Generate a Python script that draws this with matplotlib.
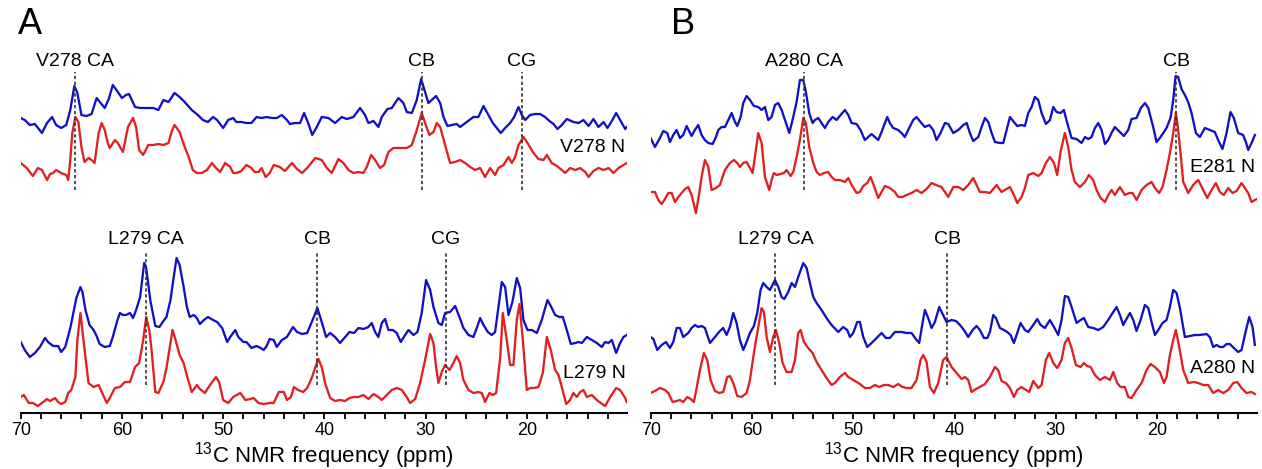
import numpy as np
import matplotlib
matplotlib.use("Agg")
import matplotlib.pyplot as plt
from matplotlib import rc
from matplotlib.ticker import MultipleLocator

rc('font', family='Liberation Sans')
rc('mathtext', fontset='custom', rm='Liberation Sans', default='regular')

# ---------------- panel A, top pair (V278 N) ----------------
a1_blue_ppm = [70.0, 69.6, 69.1, 68.6, 67.9, 67.4, 66.9, 66.5, 66.0, 65.5, 65.1, 64.7, 64.4, 64.0, 63.5, 63.0,
               62.5, 62.1, 61.7, 61.3, 60.9, 60.4, 60.0, 59.6, 59.3, 58.7, 58.2, 57.6, 56.9, 56.4, 55.9, 55.4,
               54.8, 54.3, 53.8, 53.1, 52.5, 52.0, 51.5, 51.0, 50.6, 50.0, 49.5, 49.0, 48.7, 48.2, 47.7, 47.2,
               46.7, 46.2, 45.7, 45.2, 44.7, 44.2, 43.7, 43.4, 42.9, 42.4, 42.0, 41.6, 41.2, 40.75, 40.26, 39.6,
               38.94, 38.28, 37.79, 37.13, 36.47, 35.98, 35.65, 35.15, 34.66, 34.33, 33.77, 33.34, 32.68, 32.19,
               31.86, 31.36, 30.87, 30.44, 30.05, 29.72, 29.39, 28.96, 28.56, 28.23, 27.84, 27.41, 26.92, 26.59,
               25.93, 25.27, 24.78, 24.28, 23.79, 23.36, 22.96, 22.57, 22.14, 21.65, 21.25, 20.82, 20.49, 20.16,
               19.67, 19.18, 18.68, 18.19, 17.76, 17.36, 16.97, 16.54, 16.05, 15.39, 14.89, 14.4, 13.9, 13.41,
               12.92, 12.42, 12.03, 11.6, 11.17, 10.78, 10.28, 10.12]
a1_blue = [17, 15, 10, 11, 2, 12, 18, 10, 7, 10, 25, 49, 42, 20, 19, 21,
           37, 32, 27, 36, 50, 43, 37, 40, 41, 28, 27, 27, 27, 25, 35, 33,
           42, 38, 33, 25, 20, 15, 13, 18, 15, 7, 15, 17, 13, 13, 12, 12,
           18, 17, 18, 17, 17, 20, 15, 11, 12, 12, 22, 12, 0, 8, 18, 17,
           12, 18, 16, 18, 27, 20, 12, 14, 8, 18, 26, 27, 37, 32,
           23, 22, 35, 56, 43, 32, 35, 39, 32, 18, 9, 10, 11, 8,
           13, 18, 18, 29, 20, 12, 7, 2, 7, 12, 18, 28, 20, 15,
           20, 21, 21, 18, 14, 11, 6, 10, 16, 13, 12, 15, 9, 16,
           8, 13, 7, 14, 22, 15, 6, 8]

a1_red_ppm = [70.0, 69.4, 68.8, 68.3, 67.9, 67.4, 67.1, 66.8, 66.5, 66.0, 65.5, 65.3, 65.1, 64.9, 64.6, 64.3,
              64.0, 63.7, 63.3, 63.0, 62.7, 62.3, 62.0, 61.7, 61.4, 61.2, 60.7, 60.4, 59.9, 59.4, 58.9, 58.6,
              58.3, 57.9, 57.4, 56.9, 56.4, 55.9, 55.4, 55.1, 54.8, 54.3, 53.8, 53.4, 53.0, 52.6, 52.1, 51.6,
              51.1, 50.7, 50.3, 49.8, 49.3, 49.0, 48.7, 48.2, 47.7, 47.2, 46.9, 46.5, 46.2, 45.8, 45.4, 45.0,
              44.4, 43.9, 43.2, 42.7, 42.2, 41.7, 40.9, 40.26, 39.76, 39.27, 38.61, 38.12, 37.62, 37.13, 36.63,
              36.14, 35.81, 35.38, 34.99, 34.49, 34.1, 33.67, 33.18, 32.52, 31.86, 31.36, 30.93, 30.38, 30.05,
              29.62, 29.22, 28.89, 28.56, 28.07, 27.58, 27.08, 26.59, 26.09, 25.6, 25.11, 24.61, 24.12, 23.62,
              23.13, 22.8, 22.3, 21.81, 21.48, 21.15, 20.82, 20.33, 19.93, 19.41, 18.85, 18.35, 18.02, 17.53,
              17.03, 16.54, 16.21, 15.72, 15.22, 14.73, 14.23, 13.9, 13.41, 12.92, 12.42, 11.93, 11.43, 10.94,
              10.45, 10.12]
a1_red = [17, 12, 4, 12, 10, 0, 6, 7, 10, 7, 5, 0, 20, 47, 63, 58,
          33, 18, 22, 20, 17, 47, 57, 50, 37, 32, 40, 37, 28, 53, 62, 53,
          30, 25, 35, 35, 36, 35, 37, 48, 55, 48, 33, 23, 10, 7, 7, 10,
          17, 12, 8, 17, 13, 7, 7, 9, 15, 12, 8, 8, 12, 3, 7, 15,
          13, 9, 17, 11, 7, 12, 22, 20, 12, 7, 21, 17, 10, 7, 8,
          7, 13, 25, 20, 12, 15, 28, 32, 32, 32, 35, 48, 67, 57,
          45, 48, 57, 53, 35, 17, 18, 20, 17, 13, 10, 12, 3, 12,
          5, 12, 15, 23, 17, 23, 35, 43, 37, 28, 21, 20, 25, 17,
          14, 10, 7, 12, 10, 12, 8, 3, 9, 12, 10, 12, 7, 12,
          15, 17]

# ---------------- panel A, bottom pair (L279 N) ----------------
a2_blue_ppm = [70.0, 69.6, 69.1, 68.6, 68.1, 67.6, 67.3, 66.8, 66.3, 66.0, 65.6, 65.1, 64.8, 64.5, 64.1, 63.9,
               63.6, 63.2, 62.8, 62.5, 62.2, 61.7, 61.2, 60.9, 60.5, 60.2, 59.9, 59.6, 59.2, 58.9, 58.6, 58.2,
               57.8, 57.6, 57.2, 56.7, 56.3, 55.9, 55.6, 55.2, 54.9, 54.6, 54.3, 53.9, 53.6, 53.3, 52.9, 52.6,
               52.3, 51.9, 51.5, 51.0, 50.6, 50.1, 49.6, 49.3, 48.8, 48.5, 48.0, 47.7, 47.2, 46.7, 46.3, 46.0,
               45.7, 45.4, 45.0, 44.7, 44.2, 43.7, 43.1, 42.7, 42.2, 41.7, 41.08, 40.69, 40.26, 39.83, 39.43,
               38.94, 38.45, 37.95, 37.52, 37.06, 36.63, 36.14, 35.65, 35.32, 34.99, 34.66, 34.33, 34.0, 33.67,
               33.24, 32.85, 32.45, 32.02, 31.69, 31.2, 30.8, 30.38, 29.95, 29.55, 29.22, 28.73, 28.4, 28.07,
               27.58, 27.08, 26.65, 26.26, 25.76, 25.27, 24.94, 24.61, 24.28, 23.85, 23.46, 23.13, 22.8, 22.47,
               22.14, 21.81, 21.42, 20.99, 20.66, 20.33, 19.93, 19.5, 19.01, 18.52, 17.96, 17.63, 17.2, 16.77,
               16.44, 16.05, 15.65, 15.22, 14.89, 14.56, 14.07, 13.58, 13.08, 12.59, 12.26, 11.93, 11.6, 11.17,
               10.78, 10.45, 10.12]
a2_blue = [15, 7, 0, 4, 10, 19, 15, 11, 11, 5, 10, 29, 44, 59, 70, 65,
           47, 32, 27, 21, 13, 10, 11, 20, 35, 44, 42, 42, 44, 39, 47, 60,
           94, 89, 57, 31, 30, 36, 40, 57, 79, 99, 92, 70, 51, 40, 42, 39,
           33, 37, 40, 37, 35, 29, 15, 20, 27, 20, 15, 15, 9, 11, 9, 7,
           11, 18, 17, 10, 17, 20, 30, 25, 23, 24, 39, 49, 35, 20, 24,
           20, 14, 20, 25, 24, 29, 28, 30, 34, 25, 20, 34, 38, 27,
           27, 24, 15, 22, 27, 22, 25, 44, 77, 67, 50, 34, 32, 44,
           45, 51, 40, 29, 22, 20, 29, 39, 32, 25, 22, 25, 50, 75,
           70, 42, 55, 79, 69, 37, 27, 27, 24, 37, 57, 51, 42, 40,
           40, 27, 13, 14, 15, 14, 20, 17, 14, 10, 15, 14, 17, 4,
           14, 20, 22]

a2_red_ppm = [70.0, 69.7, 69.2, 68.8, 68.3, 67.9, 67.4, 67.1, 66.6, 66.3, 66.0, 65.6, 65.3, 65.0, 64.6, 64.4,
              64.1, 63.8, 63.3, 62.8, 62.3, 61.9, 61.5, 61.2, 60.7, 60.2, 59.7, 59.2, 58.7, 58.3, 57.9, 57.6,
              57.3, 57.1, 56.7, 56.4, 55.9, 55.6, 55.2, 55.0, 54.7, 54.3, 53.9, 53.6, 53.1, 52.6, 52.3, 51.8,
              51.3, 50.7, 50.4, 50.0, 49.5, 49.0, 48.3, 47.8, 47.3, 47.0, 46.5, 46.0, 45.4, 45.0, 44.5, 44.0,
              43.7, 43.3, 43.0, 42.6, 42.1, 41.7, 41.25, 40.92, 40.59, 40.26, 39.93, 39.43, 38.94, 38.45, 37.95,
              37.52, 37.06, 36.63, 36.14, 35.65, 35.15, 34.66, 34.33, 33.83, 33.34, 32.85, 32.35, 31.86, 31.53,
              31.03, 30.54, 30.05, 29.55, 29.22, 28.96, 28.73, 28.4, 28.07, 27.64, 27.25, 26.92, 26.59, 26.26,
              25.76, 25.27, 24.78, 24.45, 24.12, 23.69, 23.36, 23.03, 22.63, 22.37, 21.98, 21.65, 21.32, 20.99,
              20.72, 20.39, 20.0, 19.67, 19.27, 18.85, 18.42, 18.02, 17.63, 17.2, 16.87, 16.54, 16.11, 15.72,
              15.39, 15.06, 14.73, 14.4, 14.07, 13.58, 13.08, 12.69, 12.26, 11.76, 11.17, 10.78, 10.28, 10.12]
a2_red = [9, 11, 3, 3, 0, 3, 7, 5, 8, 4, 2, 4, 13, 16, 29, 66,
          93, 66, 23, 19, 21, 12, 3, 8, 18, 19, 24, 24, 39, 43, 66, 89,
          76, 59, 14, 13, 24, 38, 63, 76, 66, 51, 43, 31, 14, 21, 17, 13,
          21, 29, 24, 6, 3, 9, 13, 6, 7, 8, 3, 2, 3, 3, 14, 14,
          6, 9, 19, 16, 14, 18, 28, 38, 47, 39, 23, 8, 5, 6, 5,
          8, 9, 9, 11, 7, 12, 9, 6, 11, 16, 18, 16, 9, 3,
          7, 23, 46, 72, 63, 39, 23, 34, 41, 36, 43, 50, 43, 26,
          16, 13, 14, 13, 4, 13, 11, 13, 48, 93, 66, 41, 41, 86,
          102, 66, 16, 18, 18, 19, 33, 69, 56, 36, 31, 19, 2, 6,
          13, 9, 14, 16, 9, 11, 6, 3, 0, 9, 18, 16, 8, 4]

# ---------------- panel B, top pair (E281 N) ----------------
b1_blue_ppm = [70.04, 69.61, 69.12, 68.79, 68.39, 68.13, 67.8, 67.47, 67.14, 66.81, 66.48, 65.99, 65.66, 65.33,
               65.0, 64.67, 64.34, 63.91, 63.58, 63.35, 63.02, 62.69, 62.36, 62.03, 61.7, 61.47, 61.14, 60.88,
               60.55, 60.22, 59.83, 59.4, 59.07, 58.74, 58.41, 58.08, 57.75, 57.42, 57.09, 56.76, 56.33, 55.94,
               55.61, 55.28, 54.95, 54.69, 54.36, 54.03, 53.8, 53.47, 53.14, 52.81, 52.48, 52.05, 51.66, 51.26,
               50.83, 50.5, 50.17, 49.68, 49.29, 48.86, 48.53, 48.2, 47.87, 47.54, 47.21, 46.88, 46.65, 46.39,
               46.06, 45.56, 45.24, 44.91, 44.48, 44.08, 43.75, 43.36, 42.93, 42.5, 42.1, 41.78, 41.38, 40.95,
               40.62, 40.12, 39.63, 39.13, 38.8, 38.48, 38.15, 37.65, 37.32, 36.99, 36.66, 36.33, 36.0, 35.51,
               35.18, 34.85, 34.52, 34.13, 33.8, 33.37, 33.04, 32.71, 32.38, 32.05, 31.72, 31.39, 30.97, 30.57,
               30.24, 29.91, 29.52, 29.19, 28.86, 28.43, 27.93, 27.44, 27.11, 26.78, 26.45, 26.12, 25.79, 25.46,
               25.13, 24.8, 24.48, 24.15, 23.65, 23.26, 22.83, 22.5, 22.01, 21.58, 21.18, 20.85, 20.36, 20.03,
               19.7, 19.3, 19.04, 18.65, 18.38, 18.15, 17.89, 17.56, 17.23, 16.9, 16.57, 16.14, 15.75, 15.25,
               14.76, 14.27, 13.94, 13.51, 13.11, 12.72, 12.39, 11.96, 11.47, 11.2, 10.97, 10.64, 10.31]
b1_blue = [12, 3, 12, 19, 17, 8, 15, 20, 12, 15, 24, 14, 20, 25,
           15, 10, 7, 6, 13, 20, 23, 23, 30, 37, 28, 24, 33, 47,
           54, 50, 44, 43, 40, 43, 30, 33, 45, 47, 40, 30, 17, 33,
           48, 70, 70, 58, 37, 27, 30, 32, 27, 22, 28, 33, 30, 35,
           40, 35, 27, 26, 20, 10, 13, 16, 13, 10, 18, 27, 33, 27,
           22, 20, 17, 13, 22, 30, 33, 28, 23, 25, 20, 10, 17, 27,
           26, 17, 20, 25, 27, 17, 9, 13, 23, 32, 28, 17, 8, 7,
           7, 20, 33, 28, 24, 25, 24, 37, 43, 53, 50, 37, 26, 30,
           43, 38, 37, 40, 27, 12, 11, 7, 13, 11, 13, 22, 27, 20,
           6, 10, 17, 23, 18, 14, 20, 31, 32, 42, 47, 42, 23, 8,
           12, 18, 22, 32, 50, 74, 73, 61, 55, 48, 37, 17, 13, 22,
           20, 18, 10, 1, 17, 38, 32, 17, 15, 8, 0, 7, 15]

b1_red_ppm = [70.04, 69.61, 69.28, 68.95, 68.62, 68.29, 67.96, 67.63, 67.3, 66.97, 66.64, 66.32, 65.99, 65.56,
              65.23, 65.0, 64.67, 64.34, 64.01, 63.58, 63.19, 62.69, 62.2, 61.8, 61.47, 61.21, 60.88, 60.55,
              60.22, 59.96, 59.73, 59.4, 59.07, 58.74, 58.31, 58.08, 57.85, 57.59, 57.19, 56.86, 56.6, 56.2,
              55.94, 55.61, 55.28, 54.95, 54.69, 54.36, 53.96, 53.63, 53.3, 52.91, 52.48, 52.15, 51.82, 51.33,
              50.83, 50.5, 50.17, 49.68, 49.35, 49.02, 48.63, 48.3, 48.03, 47.54, 47.21, 46.88, 46.39, 45.89,
              45.56, 45.14, 44.74, 44.25, 43.75, 43.26, 42.76, 42.27, 41.84, 41.28, 40.62, 40.12, 39.63, 39.13,
              38.64, 38.15, 37.82, 37.49, 36.99, 36.5, 36.17, 35.84, 35.35, 34.85, 34.52, 34.13, 33.8, 33.37,
              33.04, 32.71, 32.22, 31.72, 31.39, 30.97, 30.57, 30.17, 29.85, 29.52, 29.09, 28.76, 28.43, 28.1,
              27.61, 27.11, 26.72, 26.29, 25.96, 25.56, 25.13, 24.8, 24.48, 24.15, 23.65, 23.16, 22.73, 22.4,
              22.01, 21.51, 21.02, 20.52, 20.19, 19.77, 19.44, 19.04, 18.71, 18.38, 18.12, 17.89, 17.66, 17.39,
              16.9, 16.41, 15.91, 15.42, 15.02, 14.59, 14.17, 13.77, 13.38, 12.95, 12.52, 12.12, 11.63, 11.3,
              10.97, 10.64, 10.31, 10.1]
b1_red = [21, 21, 13, 9, 14, 20, 20, 11, 16, 20, 24, 26, 18, 0,
          20, 36, 53, 46, 23, 25, 28, 43, 50, 53, 50, 46, 50, 51,
          45, 40, 56, 80, 70, 36, 23, 33, 40, 38, 39, 40, 43, 37,
          41, 56, 73, 95, 90, 66, 50, 41, 38, 40, 41, 36, 33, 33,
          31, 35, 28, 20, 21, 27, 30, 36, 29, 15, 21, 27, 25, 21,
          16, 16, 18, 20, 23, 20, 24, 30, 28, 26, 16, 26, 26, 23,
          28, 35, 28, 21, 21, 20, 24, 28, 21, 24, 26, 18, 10, 16,
          25, 38, 40, 37, 40, 50, 56, 50, 38, 61, 80, 66, 43, 31,
          26, 31, 38, 33, 23, 15, 11, 18, 23, 18, 26, 18, 20, 20,
          13, 23, 28, 31, 25, 20, 26, 43, 60, 80, 100, 83, 60, 31,
          20, 28, 33, 23, 15, 23, 30, 21, 18, 25, 20, 22, 30, 25,
          20, 11, 13, 14]

# ---------------- panel B, bottom pair (A280 N) ----------------
b2_blue_ppm = [70.04, 69.77, 69.38, 68.95, 68.52, 68.13, 67.8, 67.47, 67.14, 66.81, 66.32, 65.99, 65.66, 65.33,
               65.0, 64.67, 64.17, 63.68, 63.19, 62.86, 62.53, 62.2, 61.87, 61.54, 61.21, 60.88, 60.55, 60.22,
               59.83, 59.5, 59.17, 58.9, 58.57, 58.24, 57.75, 57.42, 57.09, 56.83, 56.43, 56.1, 55.77, 55.45,
               54.95, 54.62, 54.29, 53.96, 53.63, 53.14, 52.65, 52.15, 51.49, 51.0, 50.6, 50.34, 50.01, 49.62,
               49.35, 49.02, 48.63, 48.2, 47.71, 47.21, 46.78, 46.39, 45.89, 45.23, 44.74, 44.25, 43.75, 43.49,
               43.16, 42.93, 42.6, 42.27, 41.94, 41.51, 41.12, 40.79, 40.29, 39.86, 39.46, 39.07, 38.64, 38.21,
               37.82, 37.49, 37.09, 36.76, 36.5, 36.17, 35.91, 35.51, 35.12, 34.79, 34.46, 34.13, 33.8, 33.47,
               33.04, 32.71, 32.22, 31.82, 31.49, 31.06, 30.57, 30.17, 29.75, 29.42, 29.09, 28.76, 28.43, 27.93,
               27.54, 27.21, 26.78, 26.29, 25.79, 25.3, 24.81, 24.31, 23.98, 23.65, 23.32, 23.06, 22.66, 22.33,
               22.01, 21.61, 21.18, 20.85, 20.52, 20.19, 19.86, 19.44, 19.04, 18.71, 18.38, 18.05, 17.72, 17.23,
               16.73, 16.24, 15.75, 15.09, 14.76, 14.43, 14.1, 13.77, 13.44, 13.11, 12.78, 12.39, 11.96, 11.63,
               11.3, 10.87, 10.54, 10.31]
b2_blue = [15, 13, 2, 7, 10, 4, 10, 24, 24, 15, 19, 24, 27, 25,
           26, 24, 9, 15, 21, 24, 17, 25, 39, 29, 12, 2, 10, 19,
           26, 39, 62, 69, 65, 62, 72, 65, 55, 53, 60, 69, 65, 75,
           89, 84, 69, 55, 49, 42, 34, 27, 20, 25, 22, 15, 19, 30,
           30, 15, 5, 9, 14, 19, 14, 14, 20, 20, 19, 19, 12, 9,
           29, 42, 34, 24, 30, 45, 37, 30, 32, 31, 27, 22, 15, 22,
           26, 22, 14, 14, 20, 37, 34, 24, 22, 20, 17, 9, 19, 29,
           22, 20, 27, 33, 27, 24, 32, 25, 17, 32, 56, 55, 45, 29,
           32, 34, 25, 24, 22, 25, 32, 40, 45, 37, 27, 32, 39, 32,
           21, 32, 47, 44, 30, 17, 22, 29, 32, 45, 62, 59, 44, 15,
           16, 17, 17, 18, 15, 5, 7, 5, 5, 8, 8, 4, 0, 2,
           17, 35, 25, 7]

b2_red_ppm = [70.04, 69.61, 69.12, 68.62, 68.29, 67.86, 67.47, 67.14, 66.81, 66.41, 66.08, 65.76, 65.49, 65.16,
              64.77, 64.44, 64.11, 63.68, 63.25, 62.86, 62.46, 62.2, 61.87, 61.47, 61.05, 60.55, 60.22, 59.83,
              59.4, 59.07, 58.84, 58.57, 58.24, 57.92, 57.65, 57.32, 56.99, 56.6, 56.1, 55.77, 55.45, 55.21,
              54.89, 54.46, 54.03, 53.63, 53.14, 52.65, 52.15, 51.82, 51.33, 50.83, 50.5, 50.01, 49.35, 48.86,
              48.36, 47.87, 47.44, 46.98, 46.55, 46.06, 45.56, 45.14, 44.74, 44.25, 43.75, 43.36, 43.09, 42.76,
              42.43, 42.04, 41.61, 41.12, 40.79, 40.29, 39.79, 39.3, 38.97, 38.64, 38.31, 37.88, 37.49, 36.99,
              36.5, 36.0, 35.68, 35.35, 34.92, 34.52, 34.13, 33.8, 33.37, 32.94, 32.61, 32.22, 31.72, 31.39,
              30.97, 30.64, 30.24, 29.85, 29.42, 29.09, 28.76, 28.43, 28.0, 27.54, 27.21, 26.88, 26.55, 26.12,
              25.63, 25.13, 24.64, 24.31, 23.92, 23.59, 23.16, 22.83, 22.5, 22.01, 21.51, 21.02, 20.62, 20.19,
              19.7, 19.3, 19.04, 18.71, 18.38, 18.12, 17.79, 17.39, 16.9, 16.34, 15.91, 15.42, 14.92, 14.43,
              13.94, 13.44, 12.95, 12.45, 12.06, 11.63, 11.14, 10.64, 10.31]
b2_red = [9, 11, 14, 12, 9, 0, 1, 2, 0, 5, 3, 0, 14, 32,
          49, 42, 22, 11, 9, 10, 25, 26, 19, 6, 5, 9, 22, 49,
          75, 94, 90, 65, 50, 65, 72, 59, 39, 30, 30, 42, 69, 72,
          60, 54, 49, 40, 32, 24, 17, 19, 25, 29, 25, 22, 18, 14,
          14, 17, 15, 17, 17, 15, 18, 15, 14, 14, 22, 42, 47, 40,
          15, 9, 19, 42, 45, 35, 29, 23, 25, 22, 10, 13, 15, 18,
          25, 35, 32, 21, 19, 14, 5, 12, 15, 12, 10, 21, 14, 17,
          42, 49, 39, 34, 42, 59, 64, 54, 37, 35, 39, 36, 35, 27,
          22, 25, 22, 30, 19, 15, 15, 5, 4, 12, 19, 32, 38, 35,
          30, 19, 25, 47, 62, 72, 55, 32, 19, 20, 19, 17, 17, 9,
          12, 9, 12, 19, 20, 14, 9, 10, 8]

# assignments: (label, ppm) for top and bottom pair of each panel
a_top_marks = [("V278 CA", 64.6), ("CB", 30.4), ("CG", 20.5)]
a_bot_marks = [("L279 CA", 57.65), ("CB", 40.7), ("CG", 28.0)]
b_top_marks = [("A280 CA", 54.9), ("CB", 18.1)]
b_bot_marks = [("L279 CA", 57.7), ("CB", 40.7)]

BLUE = '#1010c4'
RED = '#e02020'
W, H = 1262, 469


def draw_panel(ax, traces, marks_top, marks_bot, names):
	# traces: list of (ppm, intensity, offset, colour)
	for ppm, y, off, col in traces:
		ax.plot(ppm, np.array(y) + off, color=col, lw=1.65, solid_joinstyle='round')
	for marks, (y0, y1, ty) in zip([marks_top, marks_bot], [(223, 341, 351), (28, 162, 174)]):
		for lab, x in marks:
			ax.plot([x, x], [y0, y1], color='#333333', lw=1.2, ls=(0, (2.0, 1.5)), zorder=5)
			ax.text(x, ty, lab, ha='center', va='center', fontsize=14)
	for lab, ty in names:
		ax.text(10.25, ty, lab, ha='right', va='center', fontsize=14)

	ax.set_xlim(70, 10.1)
	ax.set_ylim(0, 413)
	ax.xaxis.set_major_locator(MultipleLocator(10))
	ax.xaxis.set_minor_locator(MultipleLocator(2))
	ax.tick_params(axis='x', which='both', direction='out', length=4.5, width=1.3, labelsize=13, pad=2)
	ax.set_yticks([])
	for s in ['top', 'left', 'right']:
		ax.spines[s].set_visible(False)
	ax.spines['bottom'].set_linewidth(1.5)
	ax.set_xlabel(r'$^{13}$C NMR frequency (ppm)', fontsize=16, labelpad=1)
	ax.patch.set_alpha(0)


def plot():
	fig = plt.figure(figsize=(W / 100, H / 100), dpi=100)
	bottom = (H - 413) / H
	axA = fig.add_axes([20.7 / W, bottom, (627 - 20.7) / W, 413 / H])
	axB = fig.add_axes([651 / W, bottom, (1257 - 651) / W, 413 / H])

	draw_panel(axA,
		[(a1_blue_ppm, a1_blue, 278, BLUE), (a1_red_ppm, a1_red, 233, RED),
		 (a2_blue_ppm, a2_blue, 56, BLUE), (a2_red_ppm, a2_red, 7, RED)],
		a_top_marks, a_bot_marks, [("V278 N", 265), ("L279 N", 40)])
	draw_panel(axB,
		[(b1_blue_ppm, b1_blue, 263, BLUE), (b1_red_ppm, b1_red, 200, RED),
		 (b2_blue_ppm, b2_blue, 61, BLUE), (b2_red_ppm, b2_red, 11, RED)],
		b_top_marks, b_bot_marks, [("E281 N", 245), ("A280 N", 45)])

	fig.text(18 / W, 1 - 25 / H, "A", fontsize=26, ha='left', va='center')
	fig.text(671 / W, 1 - 25 / H, "B", fontsize=26, ha='left', va='center')

	fig.savefig("out.png", dpi=100)


if __name__ == "__main__":
	plot()
